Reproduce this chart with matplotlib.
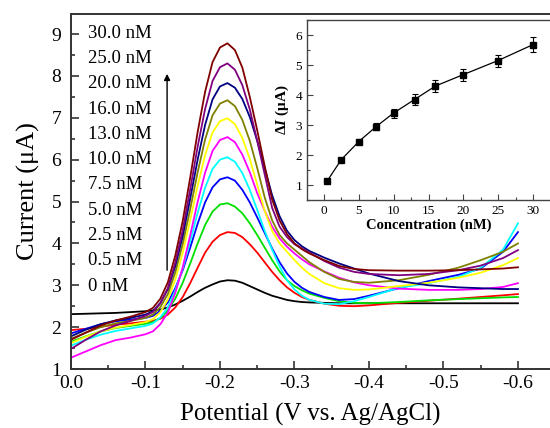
import matplotlib
matplotlib.use("Agg")
import matplotlib.pyplot as plt
from matplotlib.ticker import MultipleLocator

plt.rcParams['font.family'] = ['Liberation Serif', 'DejaVu Serif']
plt.rcParams['mathtext.fontset'] = 'custom'
plt.rcParams['mathtext.it'] = 'Liberation Serif:bold:italic'
plt.rcParams['mathtext.rm'] = 'Liberation Serif:bold'

# potential grid (V vs Ag/AgCl)
potential = [0.0, -0.02, -0.04, -0.06, -0.08, -0.10,
             -0.11, -0.12, -0.13, -0.14, -0.15, -0.16, -0.17, -0.18, -0.19, -0.20, -0.21,
             -0.22, -0.23, -0.24, -0.25, -0.26, -0.27, -0.28, -0.29, -0.30, -0.31, -0.32,
             -0.34, -0.36, -0.38, -0.40, -0.44, -0.48, -0.52, -0.55, -0.58, -0.60]

# currents (uA)
i_0 = [2.31, 2.32, 2.33, 2.34, 2.36, 2.38,
       2.40, 2.42, 2.47, 2.54, 2.63, 2.73, 2.84, 2.94, 3.02, 3.09, 3.12,
       3.11, 3.06, 2.98, 2.90, 2.82, 2.75, 2.70, 2.65, 2.62, 2.60, 2.59,
       2.58, 2.57, 2.57, 2.57, 2.57, 2.57, 2.57, 2.57, 2.57, 2.57]
i_05 = [1.93, 1.96, 2.01, 2.06, 2.09, 2.13,
        2.15, 2.20, 2.30, 2.47, 2.72, 3.05, 3.42, 3.78, 4.04, 4.20, 4.27,
        4.25, 4.15, 3.98, 3.78, 3.55, 3.32, 3.12, 2.95, 2.82, 2.72, 2.65,
        2.56, 2.51, 2.50, 2.52, 2.58, 2.63, 2.68, 2.72, 2.76, 2.79]
i_25 = [1.65, 1.78, 1.90, 1.98, 2.03, 2.08,
        2.12, 2.22, 2.40, 2.68, 3.06, 3.52, 4.00, 4.44, 4.76, 4.93, 4.96,
        4.88, 4.72, 4.48, 4.20, 3.90, 3.60, 3.33, 3.12, 2.98, 2.88, 2.80,
        2.70, 2.62, 2.58, 2.57, 2.60, 2.64, 2.67, 2.69, 2.71, 2.72]
i_5 = [1.85, 1.96, 2.07, 2.14, 2.18, 2.22,
       2.27, 2.39, 2.59, 2.93, 3.36, 3.90, 4.47, 4.98, 5.34, 5.53, 5.58,
       5.50, 5.28, 4.98, 4.62, 4.25, 3.88, 3.55, 3.28, 3.08, 2.94, 2.84,
       2.72, 2.65, 2.67, 2.75, 2.93, 3.10, 3.25, 3.40, 3.80, 4.27]
i_75 = [1.56, 1.70, 1.82, 1.91, 1.97, 2.03,
        2.09, 2.23, 2.47, 2.88, 3.40, 4.05, 4.73, 5.33, 5.78, 6.00, 6.06,
        5.95, 5.68, 5.28, 4.80, 4.30, 3.85, 3.45, 3.12, 2.90, 2.75, 2.65,
        2.56, 2.55, 2.62, 2.72, 2.94, 3.05, 3.20, 3.42, 3.85, 4.48]
i_10 = [1.27, 1.42, 1.57, 1.69, 1.75, 1.83,
        1.90, 2.07, 2.35, 2.82, 3.43, 4.19, 4.99, 5.69, 6.21, 6.47, 6.54,
        6.42, 6.12, 5.70, 5.20, 4.78, 4.40, 4.12, 3.92, 3.76, 3.62, 3.50,
        3.33, 3.18, 3.07, 3.00, 2.92, 2.89, 2.89, 2.91, 2.96, 3.05]
i_13 = [1.62, 1.77, 1.90, 1.99, 2.05, 2.12,
        2.19, 2.36, 2.66, 3.14, 3.78, 4.56, 5.38, 6.11, 6.65, 6.92, 6.99,
        6.85, 6.52, 6.02, 5.40, 4.78, 4.30, 4.00, 3.80, 3.60, 3.42, 3.27,
        3.05, 2.93, 2.89, 2.90, 2.98, 3.06, 3.18, 3.30, 3.48, 3.65]
i_16 = [1.72, 1.87, 2.00, 2.09, 2.15, 2.22,
        2.30, 2.48, 2.79, 3.31, 3.99, 4.82, 5.70, 6.48, 7.06, 7.34, 7.42,
        7.28, 6.95, 6.45, 5.80, 5.10, 4.55, 4.20, 4.00, 3.85, 3.70, 3.55,
        3.32, 3.15, 3.08, 3.06, 3.12, 3.25, 3.42, 3.60, 3.80, 4.00]
i_20 = [1.78, 1.94, 2.07, 2.16, 2.22, 2.30,
        2.38, 2.58, 2.91, 3.46, 4.18, 5.07, 6.00, 6.83, 7.44, 7.75, 7.83,
        7.72, 7.45, 7.02, 6.45, 5.80, 5.15, 4.65, 4.30, 4.08, 3.93, 3.82,
        3.66, 3.52, 3.40, 3.28, 3.10, 3.00, 2.95, 2.93, 2.91, 2.91]
i_25n = [1.48, 1.70, 1.90, 2.04, 2.15, 2.27,
         2.36, 2.57, 2.93, 3.54, 4.32, 5.29, 6.31, 7.21, 7.88, 8.21, 8.30,
         8.15, 7.78, 7.20, 6.45, 5.65, 4.85, 4.40, 4.15, 3.98, 3.88, 3.78,
         3.58, 3.42, 3.32, 3.27, 3.24, 3.27, 3.36, 3.47, 3.65, 3.84]
i_30 = [1.70, 1.87, 2.04, 2.16, 2.25, 2.36,
        2.46, 2.68, 3.07, 3.71, 4.54, 5.57, 6.66, 7.62, 8.33, 8.68, 8.78,
        8.62, 8.20, 7.50, 6.70, 5.85, 5.05, 4.55, 4.22, 4.00, 3.86, 3.76,
        3.60, 3.46, 3.39, 3.36, 3.35, 3.35, 3.36, 3.38, 3.40, 3.43]

curves = [i_0, i_05, i_25, i_5, i_75, i_10, i_13, i_16, i_20, i_25n, i_30]
colors = ['#000000', '#ff0000', '#00e000', '#0000ff', '#00ffff', '#ff00ff',
          '#ffff00', '#808000', '#000080', '#800080', '#800000']
labels = ['0 nM', '0.5 nM', '2.5 nM', '5.0 nM', '7.5 nM', '10.0 nM',
          '13.0 nM', '16.0 nM', '20.0 nM', '25.0 nM', '30.0 nM']

# inset: calibration
conc = [0.5, 2.5, 5, 7.5, 10, 13, 16, 20, 25, 30]
delta_i = [1.15, 1.85, 2.45, 2.95, 3.40, 3.85, 4.30, 4.68, 5.15, 5.68]
delta_err = [0.05, 0.06, 0.08, 0.12, 0.15, 0.17, 0.19, 0.20, 0.20, 0.24]

W, H = 550, 428
fig = plt.figure(figsize=(5.5, 4.28), dpi=100)
ax = fig.add_axes([71 / W, (H - 369) / H, (W - 71) / W, (369 - 14) / H])

for y, c in zip(curves, colors):
    ax.plot(potential, y, color=c, lw=1.3)

ax.set_xlim(0, -0.643)
ax.set_ylim(1, 9.48)
ax.xaxis.set_minor_locator(MultipleLocator(0.05))
ax.yaxis.set_major_locator(MultipleLocator(1))
ax.yaxis.set_minor_locator(MultipleLocator(0.5))
ax.set_xticks([0, -0.1, -0.2, -0.3, -0.4, -0.5, -0.6])
ax.set_xticklabels(['0.0', '-0.1', '-0.2', '-0.3', '-0.4', '-0.5', '-0.6'])
ax.tick_params(which='both', direction='in', labelsize=14, width=1.2, color='#333333')
ax.tick_params(which='major', length=6)
ax.tick_params(which='minor', length=3)
ax.tick_params(axis='x', pad=4)
ax.tick_params(axis='y', pad=7)
ax.spines['right'].set_visible(False)
for s in ['left', 'top', 'bottom']:
    ax.spines[s].set_linewidth(1.4)
    ax.spines[s].set_color('#333333')
ax.set_xlabel('Potential (V vs. Ag/AgCl)', fontsize=18, labelpad=8)
ax.set_ylabel('Current (μA)', fontsize=19, labelpad=8)

# concentration labels, top to bottom
for k, lab in enumerate(labels[::-1]):
    ax.text(-0.023, 9.02 - k * 0.604, lab, fontsize=13.5, va='center', ha='left')

ax.annotate('', xy=(-0.129, 8.05), xytext=(-0.129, 3.36),
            arrowprops=dict(arrowstyle='-|>', color='black', lw=1.0,
                            mutation_scale=9, shrinkA=0, shrinkB=0))

# inset
ins = fig.add_axes([307 / W, (H - 200) / H, (W - 307) / W, 180 / H])
ins.errorbar(conc, delta_i, yerr=delta_err, fmt='-s', color='black', ms=4.8,
             lw=0.9, elinewidth=0.8, capsize=2, capthick=0.8)
ins.set_xlim(-2.44, 32.44)
ins.set_ylim(0.5, 6.5)
ins.xaxis.set_major_locator(MultipleLocator(5))
ins.xaxis.set_minor_locator(MultipleLocator(2.5))
ins.yaxis.set_major_locator(MultipleLocator(1))
ins.yaxis.set_minor_locator(MultipleLocator(0.5))
ins.tick_params(which='both', direction='in', labelsize=9.5, width=0.8, color='#444444')
ins.tick_params(which='major', length=4)
ins.tick_params(which='minor', length=2)
ins.spines['right'].set_visible(False)
for s in ['left', 'top', 'bottom']:
    ins.spines[s].set_linewidth(1.0)
    ins.spines[s].set_color('#444444')
ins.set_xlabel('Concentration (nM)', fontsize=10.5, fontweight='bold', labelpad=1)
ins.set_ylabel('Δ$I$ (μA)', fontsize=11, fontweight='bold', labelpad=3)

fig.savefig('out.png', dpi=100)
